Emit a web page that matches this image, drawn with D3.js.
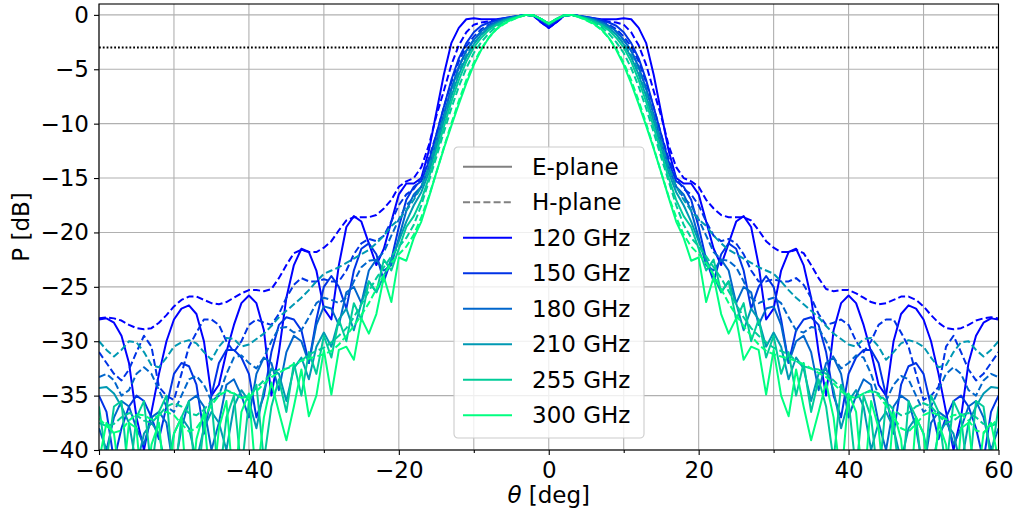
<!DOCTYPE html>
<html>
<head>
<meta charset="utf-8">
<script src="https://d3js.org/d3.v7.min.js"></script>
<style>
  body { margin: 0; background: #fff; }
  svg text { font-family: "DejaVu Sans", sans-serif; }
</style>
</head>
<body>
<div id="chart"></div>
<script>
// beam pattern, angle grid in degrees
var theta = [-60,-59,-58,-57,-56,-55,-54,-53,-52,-51,-50,-49,-48,-47,-46,-45,-44,-43,-42,-41,
  -40,-39,-38,-37,-36,-35,-34,-33,-32,-31,-30,-29,-28,-27,-26,-25,-24,-23,-22,-21,
  -20,-19,-18,-17,-16,-15,-14,-13,-12,-11,-10,-9,-8,-7,-6,-5,-4,-3,-2,-1,
  0,1,2,3,4,5,6,7,8,9,10,11,12,13,14,15,16,17,18,19,
  20,21,22,23,24,25,26,27,28,29,30,31,32,33,34,35,36,37,38,39,
  40,41,42,43,44,45,46,47,48,49,50,51,52,53,54,55,56,57,58,59,60];

var freqs = ["120 GHz", "150 GHz", "180 GHz", "210 GHz", "255 GHz", "300 GHz"];
var colors = ["#0000ff", "#0033e6", "#0066cc", "#0099b3", "#00cc99", "#00ff80"];

// E-plane cuts [dB]
var e120 = [-28,-27.9,-28.3,-29.5,-32,-37,-40,-36.5,-33,-30,-28,-27,-26.7,-27.5,-30,-35,-34,-31,-28.5,-26.5,-25.8,
  -26.5,-29,-35,-31,-26,-23,-21.5,-21.8,-23.5,-27,-28,-23,-19.5,-18.5,-19,-21,-23,-21.5,-19,-16.5,
  -15.5,-15.5,-15,-12.5,-9,-5.5,-2.6,-1.2,-0.4,-0.3,-0.4,-0.4,-0.4,-0.3,-0.2,-0.1,0,-0.1,-0.7,
  -1.2,-0.7,-0.1,0,-0.1,-0.2,-0.3,-0.4,-0.4,-0.4,-0.3,-0.4,-1.2,-2.6,-5.5,-9,-12.5,-15,-15.5,-15.5,
  -16.5,-19,-21.5,-23,-21,-19,-18.5,-19.5,-23,-28,-27,-23.5,-21.8,-21.5,-23,-26,-31,-35,-29,-26.5,
  -25.8,-26.5,-28.5,-31,-34,-35,-30,-27.5,-26.7,-27,-28,-30,-33,-36.5,-40,-37,-32,-29.5,-28.3,-27.9,-28];
var e150 = [-35,-36.5,-41,-38,-36,-35,-35.5,-37,-39,-36,-33,-32,-32.3,-34,-38.5,-35,-32,-30.8,-30.8,-31.5,-33,
  -37,-35,-31,-28.5,-27.8,-28,-29,-32,-28,-25,-24,-25,-27,-23.5,-21.5,-21,-22,-24.5,-22.5,-19.5,
  -17,-15.8,-15.3,-13.5,-11,-8.5,-6,-4,-2.6,-1.6,-1,-0.7,-0.5,-0.3,-0.2,-0.1,0,-0.1,-0.5,
  -1,-0.5,-0.1,0,-0.1,-0.2,-0.3,-0.5,-0.7,-1,-1.6,-2.6,-4,-6,-8.5,-11,-13.5,-15.3,-15.8,-17,
  -19.5,-22.5,-24.5,-22,-21,-21.5,-23.5,-27,-25,-24,-25,-28,-32,-29,-28,-27.8,-28.5,-31,-35,-37,
  -33,-31.5,-30.8,-30.8,-32,-35,-38.5,-34,-32.3,-32,-33,-36,-39,-37,-35.5,-35,-36,-38,-41,-36.5,-35];
var e180 = [-38,-40,-37,-35.5,-36,-38,-39.5,-37,-36.5,-37.5,-42,-38,-35.5,-35,-36,-40,-37.5,-34,-33.5,-35,-37,
  -33,-31.5,-32,-34.5,-31,-29.5,-30,-32,-28.5,-26.8,-27,-28.5,-25.5,-25,-26.5,-23.5,-22.5,-23.5,-23,-20.5,
  -18,-16.5,-15.8,-14,-11.6,-9.2,-6.8,-4.8,-3.3,-2.3,-1.5,-1,-0.65,-0.4,-0.25,-0.1,0,-0.05,-0.45,
  -0.9,-0.45,-0.05,0,-0.1,-0.25,-0.4,-0.65,-1,-1.5,-2.3,-3.3,-4.8,-6.8,-9.2,-11.6,-14,-15.8,-16.5,-18,
  -20.5,-23,-23.5,-22.5,-23.5,-26.5,-25,-25.5,-28.5,-27,-26.8,-28.5,-32,-30,-29.5,-31,-34.5,-32,-31.5,-33,
  -37,-35,-33.5,-34,-37.5,-40,-36,-35,-35.5,-38,-42,-37.5,-36.5,-37,-39.5,-38,-36,-35.5,-37,-40,-38];
var e210 = [-34.3,-34.2,-34.8,-36,-37.5,-41.5,-38.5,-37.5,-38.5,-42,-38.5,-37,-38,-41,-38,-36.5,-37.5,-40,-36,-34.5,-35.5,
  -38,-34.5,-32.5,-33,-35.5,-32.5,-31.5,-33.5,-30.5,-29.2,-30.5,-28,-27,-29,-26.5,-24.5,-25.5,-24,-22.5,-20.8,
  -19,-17.5,-16.3,-14.5,-12.2,-9.8,-7.5,-5.5,-3.9,-2.7,-1.8,-1.2,-0.8,-0.5,-0.3,-0.1,0,-0.05,-0.4,
  -0.8,-0.4,-0.05,0,-0.1,-0.3,-0.5,-0.8,-1.2,-1.8,-2.7,-3.9,-5.5,-7.5,-9.8,-12.2,-14.5,-16.3,-17.5,-19,
  -20.8,-22.5,-24,-25.5,-24.5,-26.5,-29,-27,-28,-30.5,-29.2,-30.5,-33.5,-31.5,-32.5,-35.5,-33,-32.5,-34.5,-38,
  -35.5,-34.5,-36,-40,-37.5,-36.5,-38,-41,-38,-37,-38.5,-42,-38.5,-37.5,-38.5,-41.5,-37.5,-36,-34.8,-34.2,-34.3];
var e255 = [-36,-41,-36,-35.5,-43,-37,-35.5,-42,-36.5,-35,-43,-37,-35.5,-44,-37.5,-35.5,-43,-37,-35,-42,-35.5,
  -34,-41,-36,-33.5,-36.5,-32,-35,-31,-33,-29.5,-31.5,-28,-30,-26.5,-28,-24.5,-25.5,-22.5,-23.5,-21.5,
  -19.5,-18.5,-17,-15,-12.7,-10.3,-8,-6,-4.3,-3,-2.1,-1.4,-0.95,-0.6,-0.35,-0.15,0,-0.05,-0.4,
  -0.8,-0.4,-0.05,0,-0.15,-0.35,-0.6,-0.95,-1.4,-2.1,-3,-4.3,-6,-8,-10.3,-12.7,-15,-17,-18.5,-19.5,
  -21.5,-23.5,-22.5,-25.5,-24.5,-28,-26.5,-30,-28,-31.5,-29.5,-33,-31,-35,-32,-36.5,-33.5,-36,-41,-34,
  -35.5,-42,-35,-37,-43,-35.5,-37.5,-44,-35.5,-37,-43,-35,-36.5,-42,-35.5,-37,-43,-35.5,-36,-41,-36];
var e300 = [-41,-37.5,-38.5,-44,-37.5,-38,-46,-39.5,-37.5,-45,-38.5,-37,-46,-39,-36.5,-45,-38,-35.5,-44,-36.5,-34.8,
  -43,-37,-33.8,-36.5,-39.1,-36,-32.6,-36.9,-35,-30.8,-34.9,-30.8,-30.5,-31.7,-27.9,-29.3,-27.5,-24.1,-26.4,-22.3,
  -22.6,-20.5,-19,-16.8,-14.5,-12.3,-10.2,-8.2,-6.3,-4.6,-3.2,-2.1,-1.3,-0.8,-0.45,-0.2,0,-0.05,-0.4,
  -0.8,-0.4,-0.05,0,-0.2,-0.45,-0.8,-1.3,-2.1,-3.2,-4.6,-6.3,-8.2,-10.2,-12.3,-14.5,-16.8,-19,-20.5,-22.6,
  -22.3,-26.4,-24.1,-27.5,-29.3,-27.9,-31.7,-30.5,-30.8,-34.9,-30.8,-35,-36.9,-32.6,-36,-39.1,-36.5,-33.8,-37,-43,
  -34.8,-36.5,-44,-35.5,-38,-45,-36.5,-39,-46,-37,-38.5,-45,-37.5,-39.5,-46,-38,-37.5,-44,-38.5,-37.5,-41];

// H-plane cuts [dB]
var h120 = [-27.9,-27.8,-27.9,-28.1,-28.5,-28.8,-28.9,-28.8,-28.3,-27.6,-26.8,-26.2,-25.9,-25.9,-26.2,-26.5,-26.6,-26.4,-26,-25.6,-25.3,
  -25.3,-25.4,-25.2,-24.2,-23,-21.9,-21.6,-21.8,-21.8,-21.4,-20.8,-19.8,-18.9,-18.6,-18.6,-18.6,-18.4,-17.8,-17,-15.8,
  -15.3,-15,-14,-12,-9.3,-7,-4.6,-2.8,-1.6,-0.9,-0.7,-0.6,-0.5,-0.4,-0.3,-0.1,0,-0.1,-0.7,
  -1.2,-0.7,-0.1,0,-0.1,-0.3,-0.4,-0.5,-0.6,-0.7,-0.9,-1.6,-2.8,-4.6,-7,-9.3,-12,-14,-15,-15.3,
  -15.8,-17,-17.8,-18.4,-18.6,-18.6,-18.6,-18.9,-19.8,-20.8,-21.4,-21.8,-21.8,-21.6,-21.9,-23,-24.2,-25.2,-25.4,-25.3,
  -25.3,-25.6,-26,-26.4,-26.6,-26.5,-26.2,-25.9,-25.9,-26.2,-26.8,-27.6,-28.3,-28.8,-28.9,-28.8,-28.5,-28.1,-27.9,-27.8,-27.9];
var h150 = [-31,-32,-33,-33.6,-32.6,-31,-29.5,-30.5,-34.2,-35,-35.4,-33,-30.5,-29.2,-28,-28,-28.5,-30,-31,-30,-28.5,
  -28,-28.3,-28.5,-27.5,-26,-24.8,-24.2,-24.5,-24.5,-24.3,-24.5,-24.5,-23.5,-22,-21,-20.6,-20.8,-20.3,-19,-17.5,
  -16.5,-16,-15,-13.2,-11,-8.5,-6.2,-4.3,-2.9,-2,-1.3,-0.9,-0.6,-0.4,-0.25,-0.1,0,-0.1,-0.5,
  -1,-0.5,-0.1,0,-0.1,-0.25,-0.4,-0.6,-0.9,-1.3,-2,-2.9,-4.3,-6.2,-8.5,-11,-13.2,-15,-16,-16.5,
  -17.5,-19,-20.3,-20.8,-20.6,-21,-22,-23.5,-24.5,-24.5,-24.3,-24.5,-24.5,-24.2,-24.8,-26,-27.5,-28.5,-28.3,-28,
  -28.5,-30,-31,-30,-28.5,-28,-28,-29.2,-30.5,-33,-35.4,-35,-34.2,-30.5,-29.5,-31,-32.6,-33.6,-33,-32,-31];
var h180 = [-33.3,-33,-33.6,-35,-34.5,-33,-32.4,-33,-34.5,-36,-36.5,-35,-33.5,-33.2,-34,-35.5,-35,-33,-31.5,-31.3,-32,
  -32.5,-31.5,-30,-28.8,-28.7,-29.2,-29,-27.8,-26.5,-26,-26.2,-26.5,-26,-24.5,-23.2,-22.6,-22.5,-21.8,-20.3,-18.8,
  -17.5,-16.8,-15.8,-14,-11.7,-9.2,-6.8,-4.8,-3.3,-2.3,-1.55,-1.05,-0.7,-0.45,-0.25,-0.1,0,-0.05,-0.45,
  -0.9,-0.45,-0.05,0,-0.1,-0.25,-0.45,-0.7,-1.05,-1.55,-2.3,-3.3,-4.8,-6.8,-9.2,-11.7,-14,-15.8,-16.8,-17.5,
  -18.8,-20.3,-21.8,-22.5,-22.6,-23.2,-24.5,-26,-26.5,-26.2,-26,-26.5,-27.8,-29,-29.2,-28.7,-28.8,-30,-31.5,-32.5,
  -32,-31.3,-31.5,-33,-35,-35.5,-34,-33.2,-33.5,-35,-36.5,-36,-34.5,-33,-32.4,-33,-34.5,-35,-33.6,-33,-33.3];
var h210 = [-30,-30.8,-31.4,-30.8,-30,-30.1,-31,-32.2,-32.4,-31.5,-30.5,-30.1,-29.9,-30.2,-31,-31.7,-30.5,-29.7,-29.8,-30.5,-30.3,
  -29.8,-29.3,-28.6,-27.8,-27.2,-26.6,-26,-25.3,-24.5,-23.8,-23.5,-23.2,-22.8,-22.4,-22,-21.6,-21,-20.3,-19.4,-18.8,
  -18,-17,-15.8,-14,-11.8,-9.5,-7.2,-5.2,-3.7,-2.6,-1.8,-1.2,-0.8,-0.5,-0.3,-0.1,0,-0.05,-0.4,
  -0.8,-0.4,-0.05,0,-0.1,-0.3,-0.5,-0.8,-1.2,-1.8,-2.6,-3.7,-5.2,-7.2,-9.5,-11.8,-14,-15.8,-17,-18,
  -18.8,-19.4,-20.3,-21,-21.6,-22,-22.4,-22.8,-23.2,-23.5,-23.8,-24.5,-25.3,-26,-26.6,-27.2,-27.8,-28.6,-29.3,-29.8,
  -30.3,-30.5,-29.8,-29.7,-30.5,-31.7,-31,-30.2,-29.9,-30.1,-30.5,-31.5,-32.4,-32.2,-31,-30.1,-30,-30.8,-31.4,-30.8,-30];
var h255 = [-37.5,-37.8,-37.6,-37,-36.6,-36.8,-37.3,-37.5,-36.8,-36,-35.7,-36,-36.6,-36.8,-36.3,-35.5,-34.8,-34.5,-34.8,-35.2,-35,
  -34.3,-33.6,-33,-32.6,-32.5,-32.3,-31.8,-31.2,-30.9,-30.6,-30.1,-29.5,-28.8,-27.8,-26.6,-25.4,-24.2,-23.2,-22.2,-21.3,
  -20.5,-19.3,-17.5,-15.3,-13.1,-10.8,-8.6,-6.6,-4.9,-3.5,-2.5,-1.7,-1.1,-0.7,-0.4,-0.15,0,-0.05,-0.4,
  -0.8,-0.4,-0.05,0,-0.15,-0.4,-0.7,-1.1,-1.7,-2.5,-3.5,-4.9,-6.6,-8.6,-10.8,-13.1,-15.3,-17.5,-19.3,-20.5,
  -21.3,-22.2,-23.2,-24.2,-25.4,-26.6,-27.8,-28.8,-29.5,-30.1,-30.6,-30.9,-31.2,-31.8,-32.3,-32.5,-32.6,-33,-33.6,-34.3,
  -35,-35.2,-34.8,-34.5,-34.8,-35.5,-36.3,-36.8,-36.6,-36,-35.7,-36,-36.8,-37.5,-37.3,-36.8,-36.6,-37,-37.6,-37.8,-37.5];
var h300 = [-37.1,-37.8,-38.4,-38.2,-37.3,-36.7,-36.8,-37.2,-36.8,-36.5,-36.8,-37.6,-38.3,-38,-37,-35.9,-35,-34.6,-34.8,-35.2,-35.1,
  -34.6,-33.9,-33.3,-32.9,-32.5,-32.1,-31.8,-31.6,-31.4,-31.2,-30.9,-30.3,-29.5,-28.6,-27.6,-26.5,-25.2,-23.9,-22.8,-22,
  -21.3,-20.2,-18.6,-16.7,-14.5,-12.2,-10,-7.9,-6,-4.4,-3.1,-2.1,-1.35,-0.85,-0.5,-0.2,0,-0.05,-0.4,
  -0.8,-0.4,-0.05,0,-0.2,-0.5,-0.85,-1.35,-2.1,-3.1,-4.4,-6,-7.9,-10,-12.2,-14.5,-16.7,-18.6,-20.2,-21.3,
  -22,-22.8,-23.9,-25.2,-26.5,-27.6,-28.6,-29.5,-30.3,-30.9,-31.2,-31.4,-31.6,-31.8,-32.1,-32.5,-32.9,-33.3,-33.9,-34.6,
  -35.1,-35.2,-34.8,-34.6,-35,-35.9,-37,-38,-38.3,-37.6,-36.8,-36.5,-36.8,-37.2,-36.8,-36.7,-37.3,-38.2,-38.4,-37.8,-37.1];

var ePlane = [e120, e150, e180, e210, e255, e300];
var hPlane = [h120, h150, h180, h210, h255, h300];

var xTicks = [-60, -40, -20, 0, 20, 40, 60];
var xMinor = [-50, -30, -10, 10, 30, 50];
var yTicks = [0, -5, -10, -15, -20, -25, -30, -35, -40];
var halfPower = -3;

// plot area
var margin = {top: 4, right: 20.5, bottom: 65, left: 99},
    width = 1019 - margin.left - margin.right,
    height = 515 - margin.top - margin.bottom;

var x = d3.scaleLinear().domain([-60, 60]).range([0, width]);
var y = d3.scaleLinear().domain([-40, 1]).range([height, 0]);

var svg = d3.select("#chart").append("svg")
    .attr("width", 1019)
    .attr("height", 515)
  .append("g")
    .attr("transform", "translate(" + margin.left + "," + margin.top + ")");

svg.append("clipPath").attr("id", "clip")
  .append("rect").attr("width", width).attr("height", height);

// grid
var grid = svg.append("g").attr("stroke", "#b0b0b0").attr("stroke-width", 1.1);
grid.selectAll(".gx").data(xTicks.concat(xMinor)).enter().append("line")
    .attr("x1", function(d) { return x(d); }).attr("x2", function(d) { return x(d); })
    .attr("y1", 0).attr("y2", height);
grid.selectAll(".gy").data(yTicks).enter().append("line")
    .attr("y1", function(d) { return y(d); }).attr("y2", function(d) { return y(d); })
    .attr("x1", 0).attr("x2", width);

// curves
var line = d3.line()
    .x(function(d, i) { return x(theta[i]); })
    .y(function(d) { return y(d); });

var curves = svg.append("g").attr("clip-path", "url(#clip)").attr("fill", "none")
    .attr("stroke-width", 2).attr("stroke-linejoin", "round");
ePlane.forEach(function(vals, i) {
  curves.append("path").datum(vals)
      .attr("stroke", colors[i]).attr("d", line);
  curves.append("path").datum(hPlane[i])
      .attr("stroke", colors[i]).attr("stroke-dasharray", "7,3.2").attr("d", line);
});

// -3 dB reference
svg.append("line")
    .attr("x1", 0).attr("x2", width)
    .attr("y1", y(halfPower)).attr("y2", y(halfPower))
    .attr("stroke", "#000").attr("stroke-width", 2)
    .attr("stroke-dasharray", "1.8,2");

// frame
svg.append("rect").attr("width", width).attr("height", height)
    .attr("fill", "none").attr("stroke", "#000").attr("stroke-width", 1.1);

// axes
function styleAxis(g) {
  g.select(".domain").remove();
  g.selectAll(".tick line").attr("stroke", "#000").attr("stroke-width", 1.1);
  g.selectAll(".tick text").attr("font-size", "23px").attr("fill", "#000")
      .attr("font-family", "DejaVu Sans, sans-serif");
}

svg.append("g")
    .attr("transform", "translate(0," + height + ")")
    .call(d3.axisBottom(x).tickValues(xTicks).tickSize(5).tickPadding(7).tickFormat(d3.format("d")))
    .call(styleAxis);
svg.append("g")
    .attr("transform", "translate(0," + height + ")")
    .call(d3.axisBottom(x).tickValues(xMinor).tickSize(3).tickFormat(""))
    .call(styleAxis);
svg.append("g")
    .call(d3.axisLeft(y).tickValues(yTicks).tickSize(5).tickPadding(5).tickFormat(d3.format("d")))
    .call(styleAxis);

// axis labels
var xl = svg.append("text")
    .attr("x", width / 2).attr("y", height + 53)
    .attr("text-anchor", "middle").attr("font-size", "23px");
xl.append("tspan").attr("font-style", "italic").text("θ");
xl.append("tspan").text(" [deg]");

svg.append("text")
    .attr("transform", "translate(" + (29 - margin.left) + "," + (height / 2) + ") rotate(-90)")
    .attr("text-anchor", "middle").attr("font-size", "23px")
    .text("P [dB]");

// legend
var legendItems = [{label: "E-plane", color: "#808080", dash: null},
                   {label: "H-plane", color: "#808080", dash: "7,3.2"}];
freqs.forEach(function(f, i) { legendItems.push({label: f, color: colors[i], dash: null}); });

var legend = svg.append("g").attr("transform", "translate(" + (454 - margin.left) + "," + (147 - margin.top) + ")");
legend.append("rect")
    .attr("width", 190).attr("height", 291).attr("rx", 4)
    .attr("fill", "#fff").attr("fill-opacity", 0.8)
    .attr("stroke", "#cccccc").attr("stroke-width", 1.1);
var rows = legend.selectAll(".row").data(legendItems).enter().append("g")
    .attr("transform", function(d, i) { return "translate(0," + (19.7 + i * 35.5) + ")"; });
rows.append("line")
    .attr("x1", 9).attr("x2", 58)
    .attr("stroke", function(d) { return d.color; })
    .attr("stroke-width", 2)
    .attr("stroke-dasharray", function(d) { return d.dash; });
rows.append("text")
    .attr("x", 78).attr("dy", "0.35em").attr("font-size", "23px")
    .text(function(d) { return d.label; });
</script>
</body>
</html>
